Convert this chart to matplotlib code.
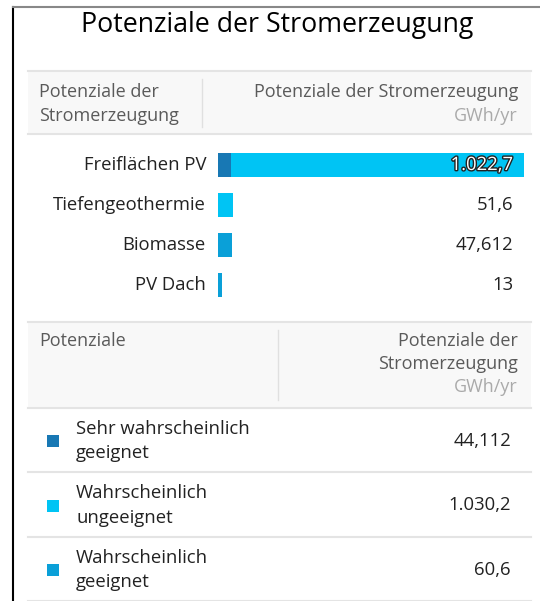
import matplotlib.pyplot as plt
import matplotlib.patheffects as pe
from matplotlib.patches import Rectangle
import numpy as np

plt.rcParams['font.family'] = ['Open Sans', 'DejaVu Sans']

# data
categories = ['Freiflächen PV', 'Tiefengeothermie', 'Biomasse', 'PV Dach']
sehr_geeignet = [44.112, 0, 0, 0]
ungeeignet = [978.588, 51.6, 0, 0]
geeignet = [0, 0, 47.612, 13]
total_labels = ['1.022,7', '51,6', '47,612', '13']

classes = ['Sehr wahrscheinlich\ngeeignet', 'Wahrscheinlich\nungeeignet', 'Wahrscheinlich\ngeeignet']
class_labels = ['44,112', '1.030,2', '60,6']
colors = ['#1878b4', '#00c4f4', '#0aa0d8']

W, H = 540, 601
fig = plt.figure(figsize=(W / 100, H / 100), dpi=100)
bg = fig.add_axes([0, 0, 1, 1], zorder=2)
bg.set_xlim(0, W)
bg.set_ylim(H, 0)
bg.axis('off')

# frame
bg.plot([13, 13], [7, H], color='black', lw=1.5)
bg.plot([13, W], [7, 7], color='#888888', lw=1.5)

txt = '#222222'
head = '#5a5a5a'
unit = '#aaaaaa'
line = '#e4e4e4'
fs = 13.3
hfs = 13

bg.text(277, 25, 'Potenziale der Stromerzeugung', ha='center', va='center',
        fontsize=19.3, color='black')

# header 1
bg.add_patch(Rectangle((28, 71), 503, 63, color='#f8f8f8', lw=0))
bg.plot([28, 531], [71, 71], color=line, lw=1.5)
bg.plot([28, 531], [134, 134], color=line, lw=1.5)
bg.plot([202, 202], [79, 127], color='#e0e0e0', lw=1)
bg.text(39, 92, 'Potenziale der', ha='left', va='center', fontsize=hfs, color=head)
bg.text(39, 116, 'Stromerzeugung', ha='left', va='center', fontsize=hfs, color=head)
bg.text(518, 92, 'Potenziale der Stromerzeugung', ha='right', va='center', fontsize=hfs, color=head)
bg.text(518, 116, 'GWh/yr', ha='right', va='center', fontsize=hfs, color=unit)

# bars
x0, x1 = 218, 524
top, bot = 145, 305
ax = fig.add_axes([x0 / W, 1 - bot / H, (x1 - x0) / W, (bot - top) / H], zorder=1)
y = np.arange(len(categories))
left = np.zeros(len(categories))
for vals, c in zip([sehr_geeignet, ungeeignet, geeignet], colors):
    ax.barh(y, vals, left=left, height=0.58, color=c, lw=0)
    left += np.array(vals)
ax.set_xlim(0, left.max())
ax.set_ylim(len(categories) - 0.5, -0.5)
ax.axis('off')

for i, (cat, lab) in enumerate(zip(categories, total_labels)):
    yy = 165 + 40 * i
    bg.text(206, yy, cat, ha='right', va='center', fontsize=fs, color=txt)
    if i == 0:
        bg.text(513, yy, lab, ha='right', va='center', fontsize=fs, color='white',
                path_effects=[pe.withStroke(linewidth=2, foreground='#222222')], zorder=5)
    else:
        bg.text(513, yy, lab, ha='right', va='center', fontsize=fs, color=txt)

# header 2
bg.add_patch(Rectangle((28, 322), 503, 86, color='#f8f8f8', lw=0))
bg.plot([28, 531], [322, 322], color=line, lw=1.5)
bg.plot([28, 531], [408, 408], color=line, lw=1.5)
bg.plot([278, 278], [330, 400], color='#e0e0e0', lw=1)
bg.text(39, 341, 'Potenziale', ha='left', va='center', fontsize=hfs, color=head)
bg.text(518, 341, 'Potenziale der', ha='right', va='center', fontsize=hfs, color=head)
bg.text(518, 364, 'Stromerzeugung', ha='right', va='center', fontsize=hfs, color=head)
bg.text(518, 387, 'GWh/yr', ha='right', va='center', fontsize=hfs, color=unit)

for i, (cl, lab, c) in enumerate(zip(classes, class_labels, colors)):
    yy = 441 + 64.5 * i
    bg.add_patch(Rectangle((47, yy - 6), 12, 12, color=c, lw=0))
    bg.text(76, yy, cl, ha='left', va='center', fontsize=fs, color=txt, linespacing=1.45)
    bg.text(511, yy, lab, ha='right', va='center', fontsize=fs, color=txt)
    bg.plot([28, 531], [yy + 31, yy + 31], color=line, lw=1.5)

fig.savefig('out.png', dpi=100)
